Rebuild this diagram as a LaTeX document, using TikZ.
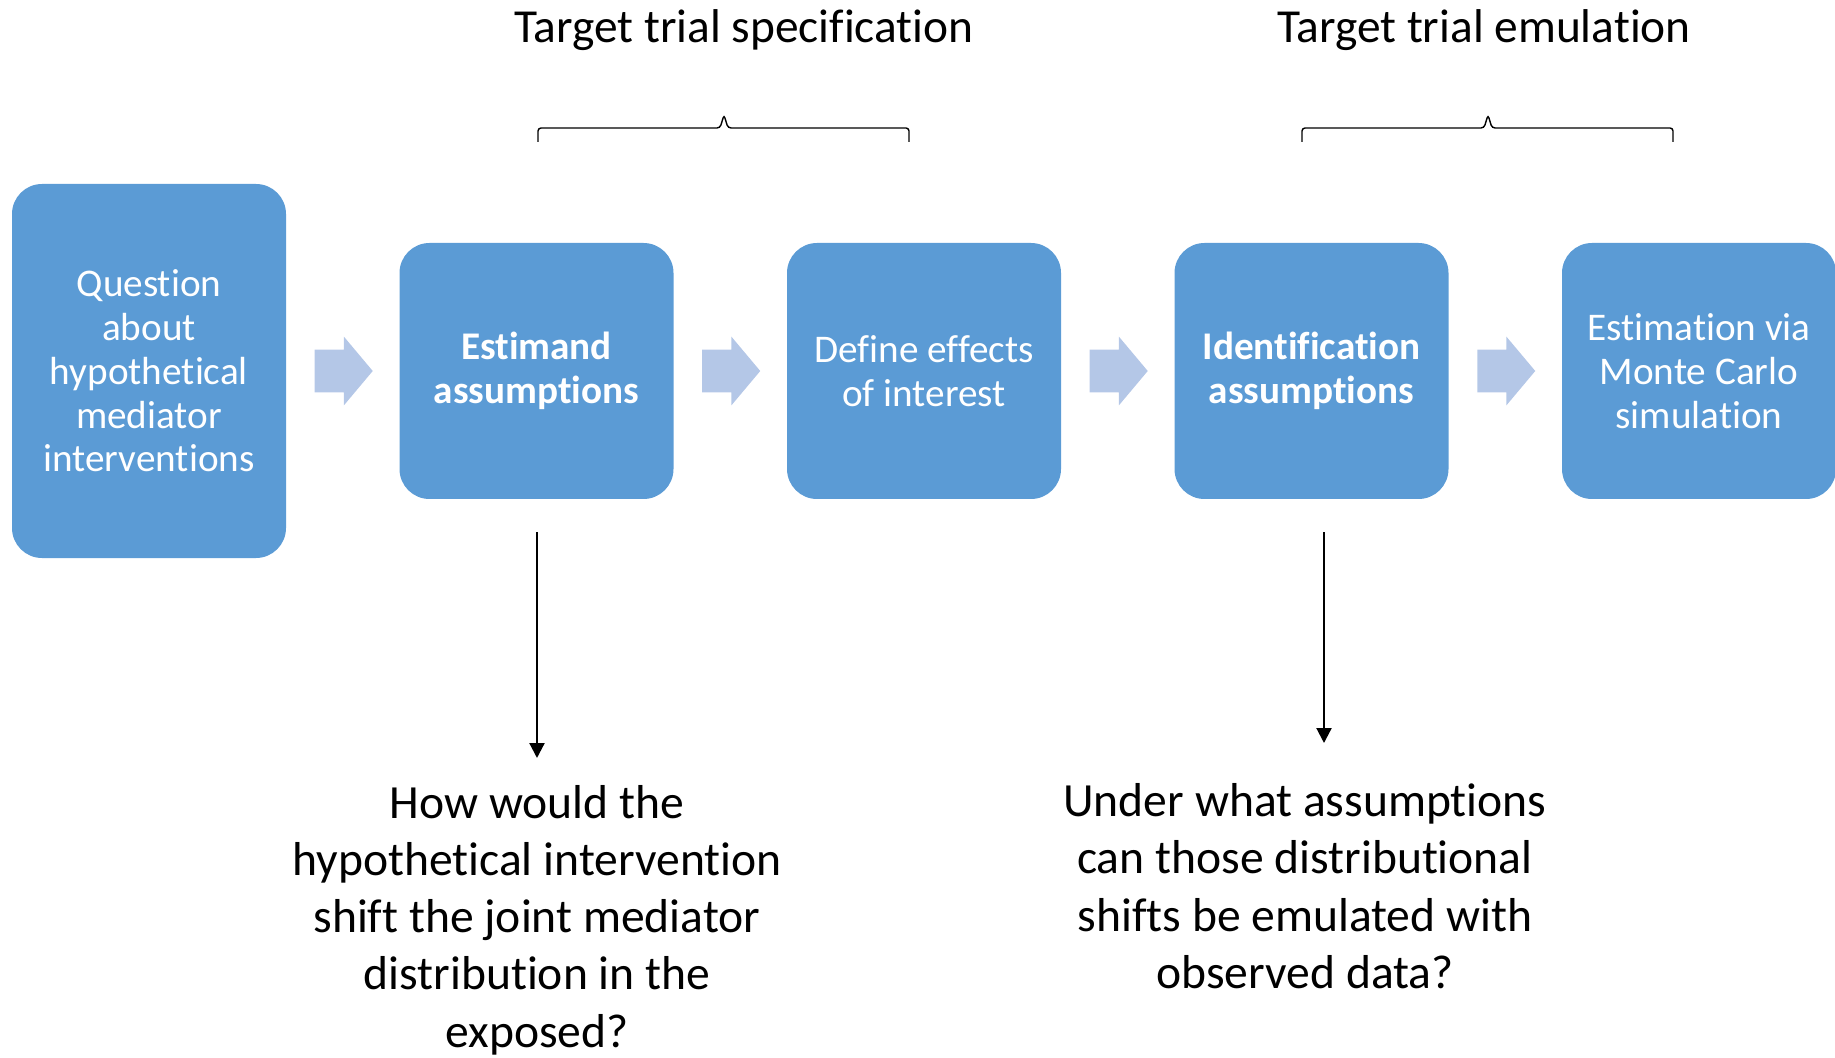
\documentclass[tikz,border=0pt]{standalone}
\usepackage{fontspec}
\setmainfont{Carlito}[Ligatures={NoCommon,NoRare,NoContextual}]
\usetikzlibrary{positioning, shapes.arrows, calc, arrows.meta}
\definecolor{boxblue}{HTML}{5B9BD5}
\definecolor{flowblue}{HTML}{B4C7E7}

\begin{document}
\begin{tikzpicture}[
  x=0.5pt, y=-0.5pt,
  stage/.style={rectangle, rounded corners=15pt, fill=boxblue, text=white, minimum width=137pt,
    minimum height=#1, align=center, inner sep=0pt, font=\fontsize{19.6}{21.9}\selectfont},
  stage/.default={128pt},
  flow/.style={single arrow, fill=flowblue, minimum height=29pt, minimum width=0pt, inner xsep=0pt,
    inner ysep=10.5pt, single arrow head extend=6.5pt, single arrow tip angle=100, xshift=-4pt},
  query/.style={align=center, font=\fontsize{23.8}{28.65}\selectfont},
  heading/.style={font=\fontsize{23.7}{28}\selectfont},
  curly/.style={line width=0.7pt, rounded corners=1.5pt},
  >={Triangle[width=7.5pt, length=7.5pt]}
]
  \useasboundingbox (0,0) rectangle (1835,1058);
  % pipeline stages
  \node[stage=187pt] (quest) at (149, 371) {Question\\about\\hypothetical\\mediator\\interventions};
  \node[stage] (estim) at (536.5, 371) {\textbf{Estimand}\\\textbf{assumptions}};
  \node[stage] (define) at (924, 371) {Define effects\\of interest};
  \node[stage] (ident) at (1311.5, 371) {\textbf{Identification}\\\textbf{assumptions}};
  \node[stage] (simul) at (1699, 371) {Estimation via\\Monte Carlo\\simulation};
  % block arrows between stages
  \node[flow] (f1) at ($(quest.east)!0.5!(estim.west)$) {};
  \node[flow] (f2) at ($(estim.east)!0.5!(define.west)$) {};
  \node[flow] (f3) at ($(define.east)!0.5!(ident.west)$) {};
  \node[flow] (f4) at ($(ident.east)!0.5!(simul.west)$) {};
  % headings and braces
  \node[heading] (spec) at (744, 30) {Target trial specification};
  \node[heading] (emul) at (1484, 30) {Target trial emulation};
  \draw[curly] (538, 142) -- (538, 128) -- (720, 128) -- (724, 115) -- (728, 128) -- (909, 128) -- (909, 142);
  \draw[curly] (1302, 142) -- (1302, 128) -- (1484, 128) -- (1488, 115) -- (1492, 128) -- (1673, 128) -- (1673, 142);
  % questions below
  \node[query] (q1) at (537, 920) {How would the\\hypothetical intervention\\shift the joint mediator\\distribution in the\\exposed?};
  \node[query] (q2) at (1305, 886) {Under what assumptions\\can those distributional\\shifts be emulated with\\observed data?};
  \coordinate (d1) at (537, 532);
  \coordinate (t1) at (537, 758);
  \coordinate (d2) at (1324, 532);
  \coordinate (t2) at (1324, 743);
  \draw[->, line width=1.1pt] (d1) -- (t1);
  \draw[->, line width=1.1pt] (d2) -- (t2);
\end{tikzpicture}
\end{document}
